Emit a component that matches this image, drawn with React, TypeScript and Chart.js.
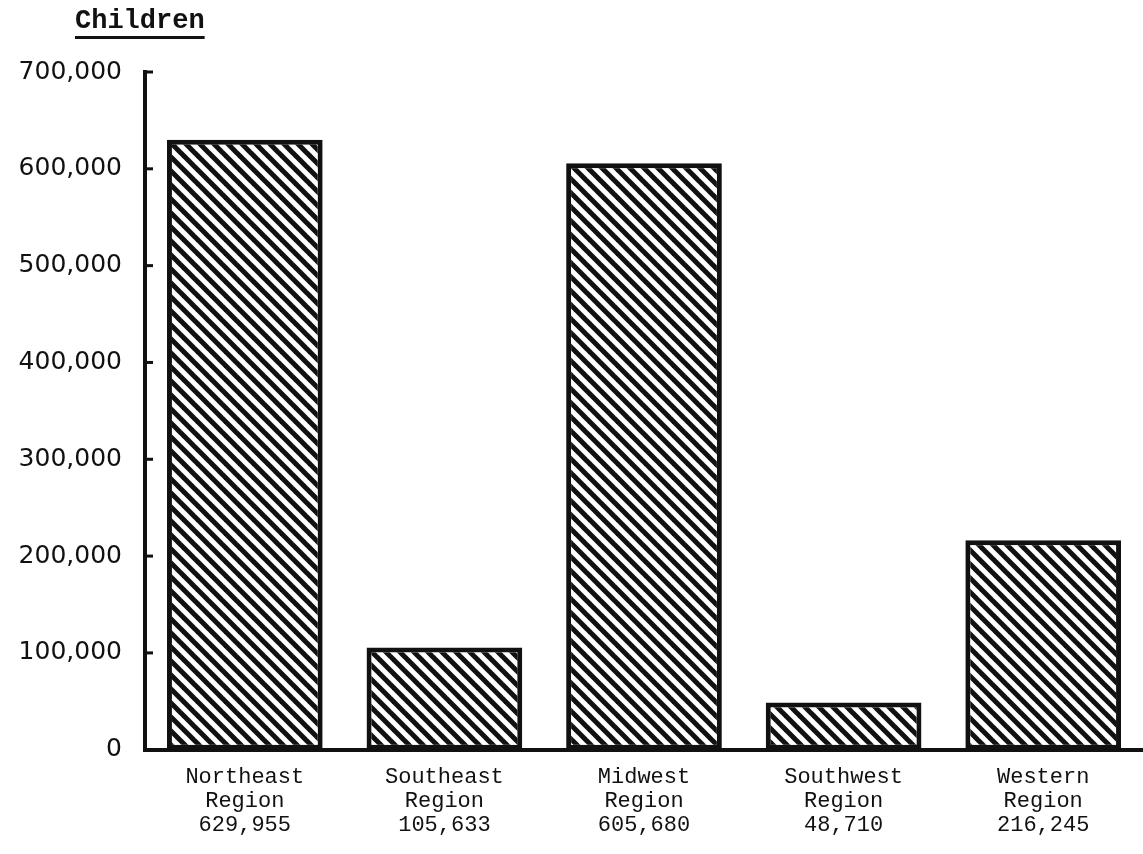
import React, { useEffect, useRef } from "react";
import { Chart, registerables } from "chart.js";

Chart.register(...registerables);

const titleText = "Children";
const regions = ["Northeast", "Southeast", "Midwest", "Southwest", "Western"];
const regionSuffix = "Region";
const children = [629955, 105633, 605680, 48710, 216245];
const yMin = 0;
const yMax = 700000;
const yStep = 100000;

function fmt(n: number): string {
  return String(Math.round(n)).replace(/\B(?=(\d{3})+(?!\d))/g, ",");
}

function makeHatch(): CanvasPattern | string {
  const s = 14;
  const c = document.createElement("canvas");
  c.width = s;
  c.height = s;
  const g = c.getContext("2d");
  if (!g) return "#ffffff";
  g.fillStyle = "#ffffff";
  g.fillRect(0, 0, s, s);
  g.strokeStyle = "#111111";
  g.lineWidth = 5;
  for (const k of [-1, 0, 1]) {
    g.beginPath();
    g.moveTo(k * s - s, -s);
    g.lineTo(k * s + 2 * s, 2 * s);
    g.stroke();
  }
  return g.createPattern(c, "repeat") || "#ffffff";
}

const tickStubs = {
  id: "tickStubs",
  afterDraw(chart: any) {
    const y = chart.scales.y;
    const ctx = chart.ctx;
    const left = chart.chartArea.left;
    ctx.save();
    ctx.strokeStyle = "#111111";
    ctx.lineWidth = 3;
    y.ticks.forEach((t: any) => {
      if (t.value === 0) return;
      const py = y.getPixelForValue(t.value);
      ctx.beginPath();
      ctx.moveTo(left, py);
      ctx.lineTo(left + 8, py);
      ctx.stroke();
    });
    ctx.restore();
  },
};

export default function App() {
  const ref = useRef<HTMLCanvasElement | null>(null);

  useEffect(() => {
    if (!ref.current) return;
    const hatch = makeHatch();
    const chart = new Chart(ref.current, {
      type: "bar",
      data: {
        labels: regions.map((r, i) => [r, regionSuffix, fmt(children[i])]),
        datasets: [
          {
            data: children,
            backgroundColor: hatch as any,
            borderColor: "#111111",
            borderWidth: 5,
            borderSkipped: false,
            barPercentage: 0.78,
            categoryPercentage: 1,
          },
        ],
      },
      options: {
        animation: false,
        responsive: false,
        maintainAspectRatio: false,
        layout: { padding: { top: 72, left: 0, right: 0, bottom: 9 } },
        plugins: {
          legend: { display: false },
          tooltip: { enabled: false },
          title: { display: false },
        },
        scales: {
          x: {
            grid: { display: false },
            border: { display: true, color: "#111111", width: 4 },
            ticks: {
              color: "#111111",
              font: { family: "Liberation Mono", size: 22, lineHeight: 1.08 },
              padding: 8,
              maxRotation: 0,
              autoSkip: false,
            },
          },
          y: {
            min: yMin,
            max: yMax,
            grid: { display: false },
            border: { display: true, color: "#111111", width: 4 },
            afterFit: (scale: any) => {
              scale.width = 145;
            },
            ticks: {
              stepSize: yStep,
              color: "#111111",
              font: { family: "DejaVu Sans", size: 25 },
              padding: 15,
              callback: (v: any) => fmt(Number(v)),
            },
          },
        },
      },
      plugins: [tickStubs],
    });
    return () => chart.destroy();
  }, []);

  return (
    <div style={{ position: "fixed", left: 0, top: 0, width: 1143, height: 854, background: "#ffffff" }}>
      <div
        style={{
          position: "absolute",
          left: 75,
          top: 6,
          fontFamily: "Liberation Mono",
          fontWeight: "bold",
          fontSize: 27,
          color: "#111111",
          textDecoration: "underline",
          textDecorationThickness: "3px",
          textUnderlineOffset: "8px",
        }}
      >
        {titleText}
      </div>
      <canvas ref={ref} width={1143} height={854} style={{ display: "block" }} />
    </div>
  );
}
